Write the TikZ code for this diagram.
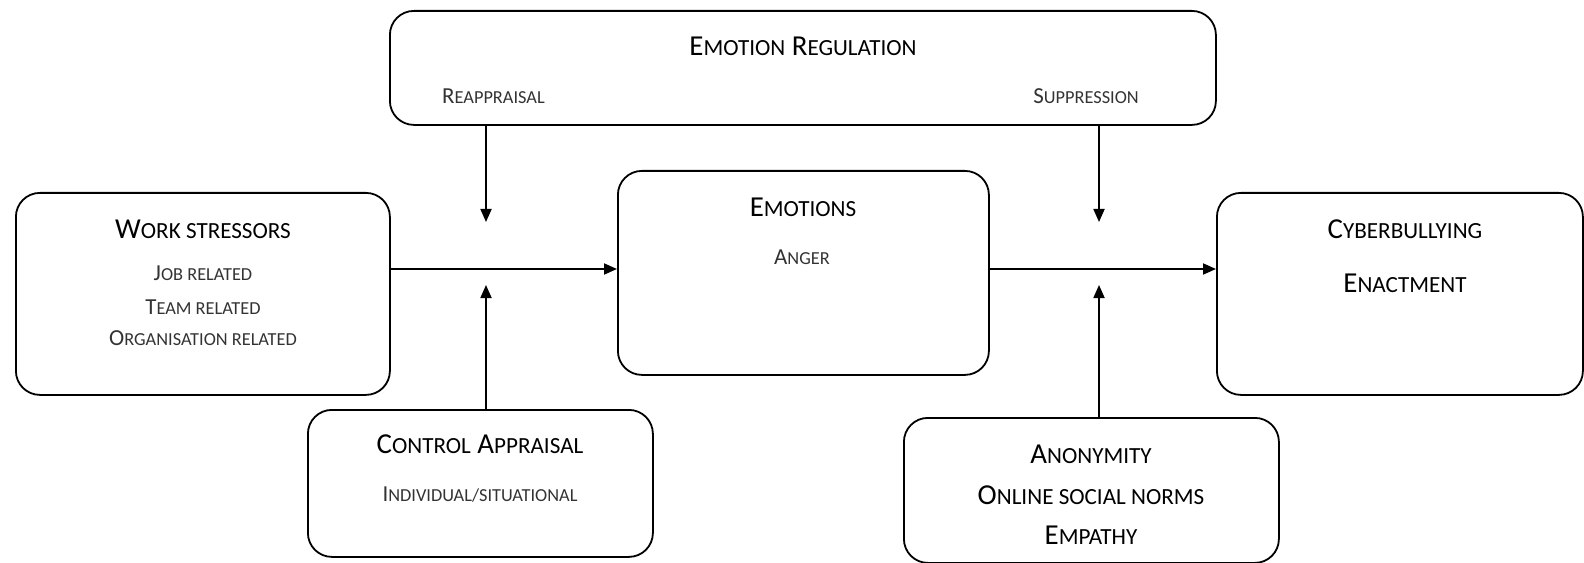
\documentclass[tikz,border=0pt]{standalone}
\usepackage{fontspec}
\setmainfont{Carlito}
\usetikzlibrary{arrows.meta}
\makeatletter
\newcommand\smc[1]{{\@tempdima=\f@size pt\@tempdima=0.8\@tempdima\fontsize{\@tempdima}{\@tempdima}\selectfont\MakeUppercase{#1}}}
\makeatother
\tikzset{
  box/.style={draw, line width=1.8bp, rounded corners=24bp, anchor=north west, inner sep=0pt},
  ttl/.style={font=\fontsize{29}{34}\selectfont, text=black, inner sep=0pt},
  sub/.style={font=\fontsize{23}{27}\selectfont, text=black!80, inner sep=0pt},
  arr/.style={line width=1.8bp, -{Triangle[length=13bp,width=11bp]}}
}
\begin{document}
\begin{tikzpicture}[x=1bp,y=-1bp]
\useasboundingbox (0,0) rectangle (1584,563);
% boxes
\node[box, minimum width=374bp, minimum height=202bp] (ws) at (15,192) {};
\node[box, minimum width=826bp, minimum height=114bp] (er) at (389,10) {};
\node[box, minimum width=371bp, minimum height=204bp] (em) at (617,170) {};
\node[box, minimum width=366bp, minimum height=202bp] (cb) at (1216,192) {};
\node[box, minimum width=345bp, minimum height=147bp] (ca) at (307,409) {};
\node[box, minimum width=375bp, minimum height=145bp] (an) at (903,417) {};
% texts
\node[ttl] (wst) at (203,229) {W\smc{ork stressors}};
\node[sub] (ws1) at (203,273) {J\smc{ob related}};
\node[sub] (ws2) at (203,307) {T\smc{eam related}};
\node[sub] (ws3) at (203,338) {O\smc{rganisation related}};
\node[ttl] (ert) at (803,46) {E\smc{motion} R\smc{egulation}};
\node[sub, anchor=west] (er1) at (442,96) {R\smc{eappraisal}};
\node[sub, anchor=east] (er2) at (1139,96) {S\smc{uppression}};
\node[ttl] (emt) at (803,207) {E\smc{motions}};
\node[sub] (em1) at (802,257) {A\smc{nger}};
\node[ttl] (cbt) at (1405,229) {C\smc{yberbullying}};
\node[ttl] (cb1) at (1405,283) {E\smc{nactment}};
\node[ttl] (cat) at (480,444) {C\smc{ontrol} A\smc{ppraisal}};
\node[sub] (ca1) at (480,495) {I\smc{ndividual/situational}};
\node[ttl] (an1) at (1091,454) {A\smc{nonymity}};
\node[ttl] (an2) at (1091,495) {O\smc{nline social norms}};
\node[ttl] (an3) at (1091,535) {E\smc{mpathy}};
% connector end points
\coordinate (m1) at (486,222);
\coordinate (m2) at (486,285);
\coordinate (m3) at (1099,222);
\coordinate (m4) at (1099,285);
\coordinate (ya) at (0,269);
% connectors
\draw[arr] (ws.east |- ya) -- (em.west |- ya);
\draw[arr] (em.east |- ya) -- (cb.west |- ya);
\draw[arr] (er.south -| m1) -- (m1);
\draw[arr] (ca.north -| m2) -- (m2);
\draw[arr] (er.south -| m3) -- (m3);
\draw[arr] (an.north -| m4) -- (m4);
\end{tikzpicture}
\end{document}
